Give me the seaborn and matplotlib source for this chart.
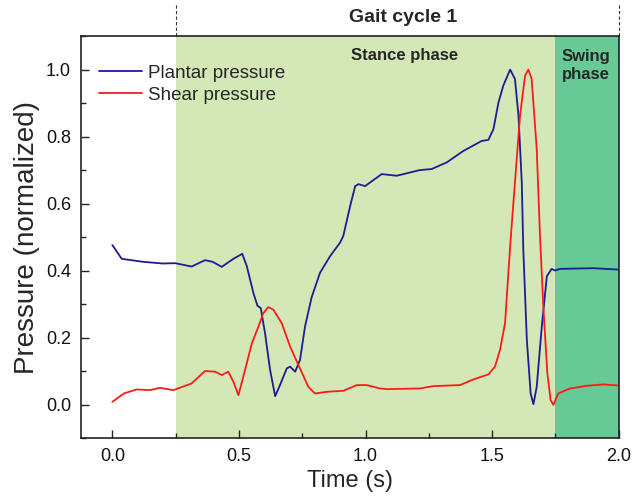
import numpy as np
import pandas as pd
import matplotlib
matplotlib.use("Agg")
import matplotlib.pyplot as plt
import seaborn as sns
from matplotlib.ticker import MultipleLocator

# ---- data ----
plantar_t = [0.000, 0.037, 0.122, 0.200, 0.248, 0.313, 0.366, 0.396, 0.432, 0.478, 0.513,
             0.531, 0.557, 0.573, 0.586, 0.603, 0.623, 0.643, 0.662, 0.689, 0.702, 0.722,
             0.741, 0.761, 0.787, 0.820, 0.860, 0.899, 0.912, 0.939, 0.959, 0.972, 0.998,
             1.064, 1.123, 1.215, 1.261, 1.321, 1.386, 1.459, 1.485, 1.505, 1.525, 1.544,
             1.571, 1.590, 1.604, 1.617, 1.623, 1.637, 1.652, 1.663, 1.676, 1.696, 1.716,
             1.735, 1.748, 1.768, 1.900, 1.995]
plantar_p = [0.476, 0.435, 0.426, 0.421, 0.422, 0.412, 0.431, 0.426, 0.411, 0.435, 0.450,
             0.413, 0.333, 0.295, 0.288, 0.213, 0.103, 0.025, 0.058, 0.108, 0.113, 0.098,
             0.133, 0.233, 0.320, 0.393, 0.443, 0.483, 0.503, 0.592, 0.652, 0.658, 0.652,
             0.688, 0.683, 0.700, 0.703, 0.723, 0.757, 0.787, 0.790, 0.822, 0.902, 0.952,
             1.000, 0.972, 0.862, 0.663, 0.463, 0.193, 0.033, 0.001, 0.053, 0.233, 0.383,
             0.405, 0.400, 0.405, 0.407, 0.403]

shear_t = [0.000, 0.045, 0.096, 0.149, 0.188, 0.241, 0.313, 0.366, 0.406, 0.432, 0.458,
           0.478, 0.498, 0.524, 0.551, 0.577, 0.596, 0.616, 0.636, 0.669, 0.702, 0.741,
           0.774, 0.800, 0.847, 0.912, 0.965, 1.005, 1.057, 1.084, 1.215, 1.268, 1.373,
           1.426, 1.485, 1.511, 1.531, 1.551, 1.564, 1.573, 1.590, 1.610, 1.630, 1.643,
           1.656, 1.676, 1.689, 1.702, 1.718, 1.731, 1.742, 1.761, 1.808, 1.874, 1.939,
           1.995]
shear_p = [0.008, 0.033, 0.045, 0.043, 0.050, 0.043, 0.063, 0.100, 0.098, 0.088, 0.098,
           0.068, 0.028, 0.103, 0.183, 0.233, 0.273, 0.291, 0.283, 0.243, 0.173, 0.108,
           0.053, 0.033, 0.038, 0.041, 0.058, 0.058, 0.048, 0.046, 0.048, 0.055, 0.058,
           0.075, 0.090, 0.113, 0.163, 0.243, 0.393, 0.493, 0.663, 0.862, 0.982, 1.000,
           0.972, 0.763, 0.503, 0.293, 0.093, 0.013, -0.001, 0.033, 0.048, 0.056, 0.060,
           0.057]

series_names = ["Plantar pressure", "Shear pressure"]
series_colors = ["#1c1c96", "#ff1a1a"]

phase_bounds = [0.25, 1.75, 2.0]          # stance start, swing start, cycle end
phase_labels = ["Stance phase", "Swing\nphase"]
phase_colors = ["#d3e8b6", "#66c996"]
cycle_label = "Gait cycle 1"

x_ticks = [0.0, 0.5, 1.0, 1.5, 2.0]
y_ticks = [0.0, 0.2, 0.4, 0.6, 0.8, 1.0]

# ---- build long-form table ----
df = pd.concat([
    pd.DataFrame({"t": plantar_t, "p": plantar_p, "series": series_names[0]}),
    pd.DataFrame({"t": shear_t, "p": shear_p, "series": series_names[1]}),
], ignore_index=True)

sns.set_style("ticks")
plt.rcParams["font.family"] = ["Liberation Sans", "DejaVu Sans"]

fig = plt.figure(figsize=(6.33, 5.01), dpi=100)
ax = fig.add_axes([0.1275, 0.1257, 0.85, 0.8023])

# phase shading
ax.axvspan(phase_bounds[0], phase_bounds[1], color=phase_colors[0], lw=0, zorder=0)
ax.axvspan(phase_bounds[1], phase_bounds[2], color=phase_colors[1], lw=0, zorder=0)

sns.lineplot(data=df, x="t", y="p", hue="series", hue_order=series_names,
             palette=dict(zip(series_names, series_colors)), sort=False,
             estimator=None, lw=1.3, ax=ax, zorder=3)

ax.set_xlim(-0.125, 2.0)
ax.set_ylim(-0.1, 1.1)
ax.set_xticks(x_ticks)
ax.set_yticks(y_ticks)
ax.set_xticklabels([f"{v:.1f}" for v in x_ticks])
ax.set_yticklabels([f"{v:.1f}" for v in y_ticks])
ax.xaxis.set_minor_locator(MultipleLocator(0.25))
ax.yaxis.set_minor_locator(MultipleLocator(0.1))
ax.tick_params(which="major", direction="in", length=6, width=1.0, labelsize=13, pad=7,
               colors="#222222", labelcolor="#111111")
ax.tick_params(which="minor", direction="in", length=3.5, width=1.0, colors="#222222")
for s in ax.spines.values():
    s.set_linewidth(1.2)
    s.set_color("#222222")

ax.set_xlabel("Time (s)", fontsize=17, labelpad=4)
ax.set_ylabel("Pressure (normalized)", fontsize=20, labelpad=4)

leg = ax.legend(loc="upper left", bbox_to_anchor=(0.02, 0.948), frameon=False,
                fontsize=13.5, handlelength=2.3, handletextpad=0.3, labelspacing=0.28,
                borderaxespad=0.0)
for line in leg.get_lines():
    line.set_linewidth(1.3)

# phase labels
ax.text(1.156, 1.042, phase_labels[0], ha="center", va="center", fontsize=12,
        fontweight="bold")
ax.text(1.871, 1.012, phase_labels[1], ha="center", va="center", fontsize=12,
        fontweight="bold", linespacing=1.2)

# gait-cycle marker above the axes
for xb in (phase_bounds[0], phase_bounds[2]):
    ax.plot([xb, xb], [1.1, 1.197], ls=(0, (3, 2)), color="#333333", lw=0.8,
            clip_on=False)
ax.text(1.15, 1.155, cycle_label, ha="center", va="center", fontsize=14,
        fontweight="bold", clip_on=False)

fig.savefig("out.png", dpi=100)
